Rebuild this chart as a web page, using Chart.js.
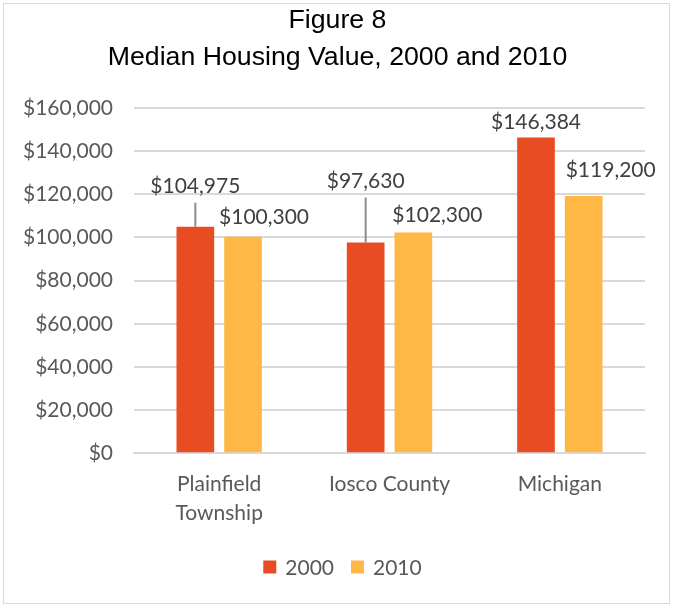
<!DOCTYPE html>
<html>
<head>
<meta charset="utf-8">
<script src="https://cdn.jsdelivr.net/npm/chart.js@4"></script>
<style>
  html, body { margin: 0; padding: 0; background: #fff; }
  #wrap { position: absolute; left: 0; top: 0; width: 675px; height: 609px; }
  #frame { position: absolute; left: 3px; top: 3px; width: 667px; height: 601px; border: 1px solid #d9d9d9; box-sizing: border-box; pointer-events: none; }
</style>
</head>
<body>
<div id="wrap">
  <canvas id="c" width="675" height="609"></canvas>
  <div id="frame"></div>
</div>
<script>
// Median housing value by place
const places = [['Plainfield', 'Township'], 'Iosco County', 'Michigan'];
const years = ['2000', '2010'];
const value2000 = [104975, 97630, 146384];
const value2010 = [100300, 102300, 119200];
const yTicks = [0, 20000, 40000, 60000, 80000, 100000, 120000, 140000, 160000];
const titleLines = ['Figure 8', 'Median Housing Value, 2000 and 2010'];
const seriesColors = ['#e84c22', '#ffb845'];

const fmt = v => '$' + v.toLocaleString('en-US');
const bodyFont = 'Lato, "Open Sans", sans-serif';

// label placement per dataset/bar: [dx, dy above bar top, leader line]
const labelPlacement = [
  [[0, -40, true], [0, -61, true], [0, -15, false]],
  [[21, -20, false], [24, -17, false], [27, -26, false]]
];

// value labels above the bars, with leader lines where the label is lifted
const valueLabels = {
  id: 'valueLabels',
  afterDatasetsDraw(chart) {
    const ctx = chart.ctx;
    ctx.save();
    ctx.font = '21px ' + bodyFont;
    ctx.textAlign = 'center';
    ctx.textBaseline = 'middle';
    chart.data.datasets.forEach((ds, di) => {
      const meta = chart.getDatasetMeta(di);
      meta.data.forEach((bar, i) => {
        const [dx, dy, leader] = labelPlacement[di][i];
        const x = bar.x + dx;
        const y = bar.y + dy;
        if (leader) {
          ctx.strokeStyle = '#8c8c8c';
          ctx.lineWidth = 2;
          ctx.beginPath();
          ctx.moveTo(bar.x, y + 16);
          ctx.lineTo(bar.x, bar.y);
          ctx.stroke();
        }
        ctx.fillStyle = '#404040';
        ctx.fillText(fmt(ds.data[i]), x, y);
      });
    });
    ctx.restore();
  }
};

// two-line title centred on the whole figure, and the series key at the bottom
const frameTexts = {
  id: 'frameTexts',
  afterDraw(chart) {
    const ctx = chart.ctx;
    const cx = chart.width / 2;
    ctx.save();
    ctx.fillStyle = '#000';
    ctx.font = '26.7px "Liberation Sans", Arial, sans-serif';
    ctx.textAlign = 'center';
    ctx.textBaseline = 'middle';
    ctx.fillText(titleLines[0], cx, 21);
    ctx.fillText(titleLines[1], cx, 58);

    ctx.font = '21px ' + bodyFont;
    ctx.textAlign = 'left';
    const box = 13, gapText = 9, gapItem = 17, ly = 567;
    const items = chart.data.datasets.map(d => ({ label: d.label, color: d.backgroundColor, w: ctx.measureText(d.label).width }));
    const total = items.reduce((s, it) => s + box + gapText + it.w, 0) + gapItem * (items.length - 1);
    let x = cx + 5 - total / 2;
    items.forEach(it => {
      ctx.fillStyle = it.color;
      ctx.fillRect(x, ly - box / 2, box, box);
      ctx.fillStyle = '#595959';
      ctx.fillText(it.label, x + box + gapText, ly + 1);
      x += box + gapText + it.w + gapItem;
    });
    ctx.restore();
  }
};

new Chart(document.getElementById('c'), {
  type: 'bar',
  data: {
    labels: places,
    datasets: [
      { label: years[0], data: value2000, backgroundColor: seriesColors[0], categoryPercentage: 0.56, barPercentage: 0.79 },
      { label: years[1], data: value2010, backgroundColor: seriesColors[1], categoryPercentage: 0.56, barPercentage: 0.79 }
    ]
  },
  options: {
    responsive: false,
    animation: false,
    layout: { padding: { left: 2, right: 30, top: 108, bottom: 73 } },
    plugins: {
      title: { display: false },
      legend: { display: false },
      tooltip: { enabled: false }
    },
    scales: {
      x: {
        grid: { display: false },
        border: { color: '#d9d9d9', width: 2 },
        ticks: { color: '#595959', font: { family: bodyFont, size: 21, lineHeight: 1.4 }, padding: 8, maxRotation: 0 }
      },
      y: {
        min: 0, max: 160000,
        afterBuildTicks(axis) { axis.ticks = yTicks.map(v => ({ value: v })); },
        grid: { color: '#d9d9d9', lineWidth: 2, drawTicks: false },
        border: { display: false },
        ticks: { color: '#595959', font: { family: bodyFont, size: 21 }, padding: 21, callback: v => fmt(v) }
      }
    }
  },
  plugins: [valueLabels, frameTexts]
});
</script>
</body>
</html>
